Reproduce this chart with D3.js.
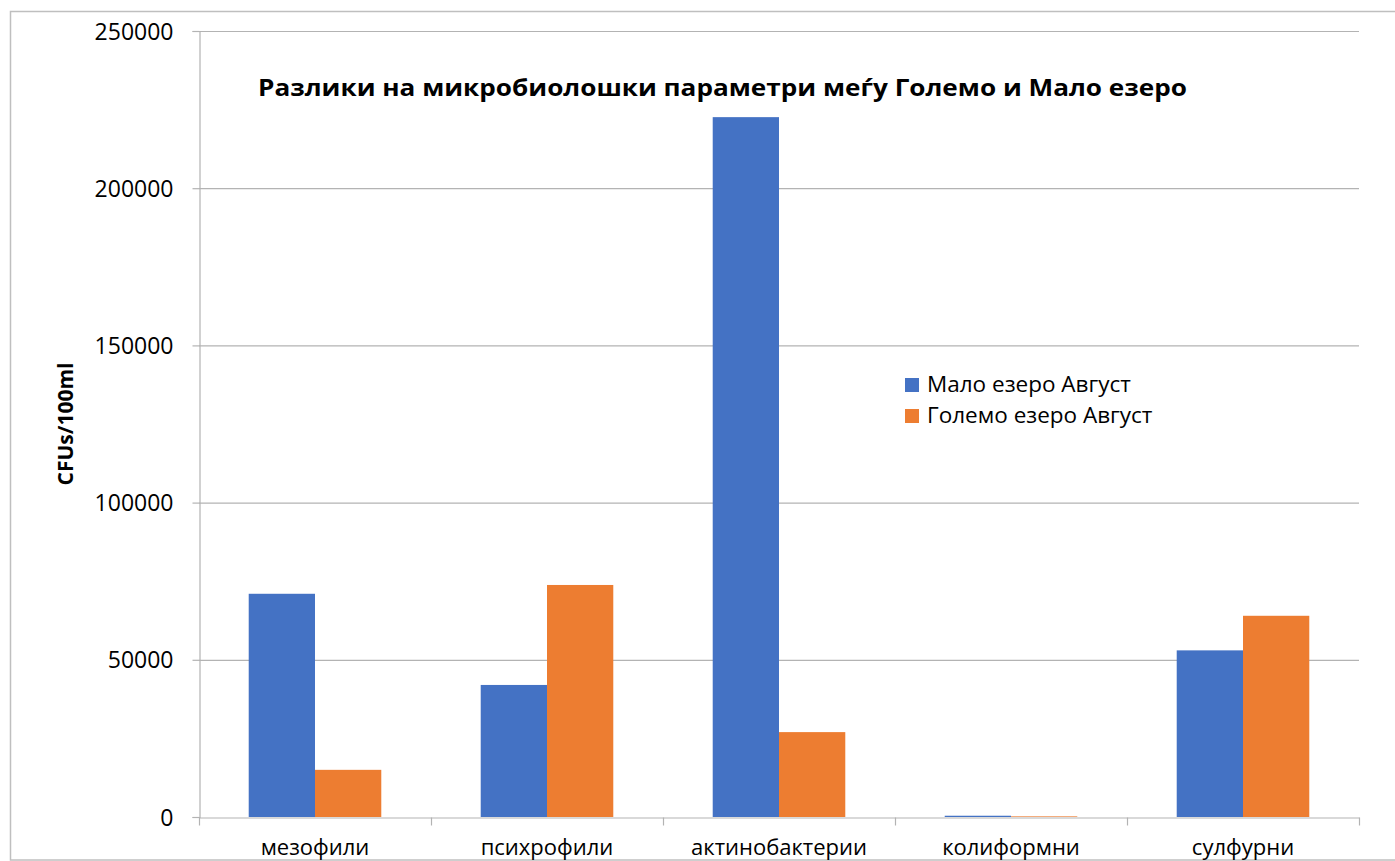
<!DOCTYPE html>
<html>
<head>
<meta charset="utf-8">
<script src="https://cdn.jsdelivr.net/npm/d3@7"></script>
<style>
  body { margin: 0; background: #fff; overflow: hidden; }
  text { font-family: "Open Sans", "Noto Sans", sans-serif; fill: #000; }
</style>
</head>
<body>
<svg id="chart"></svg>
<script>
let categories = ['мезофили', 'психрофили', 'актинобактерии', 'колиформни', 'сулфурни']
let seriesNames = ['Мало езеро Август', 'Големо езеро Август']
let maloValues = [71000, 42000, 222600, 400, 53000]
let golemoValues = [15000, 73800, 27000, 200, 64000]
let yTicks = [0, 50000, 100000, 150000, 200000, 250000]
let colors = ['#4472C4', '#ED7D31']

let width = 1395
let height = 861
let svg = d3.select('#chart')
  .attr('width', width)
  .attr('height', height)

// chart frame (runs off the right edge)
svg.append('rect')
  .attr('x', 10.5).attr('y', 11.5)
  .attr('width', 1420).attr('height', 848.5)
  .attr('fill', 'none')
  .attr('stroke', '#bfbfbf')
  .attr('stroke-width', 1.5)

let plotLeft = 199, plotRight = 1359, plotTop = 31, plotBottom = 817

let x0 = d3.scaleBand().domain(categories).range([plotLeft, plotRight])
let x1 = d3.scaleBand().domain(seriesNames).range([0, x0.bandwidth()]).paddingOuter(0.75)
let y = d3.scaleLinear().domain([0, 250000]).range([plotBottom, plotTop])

// gridlines
svg.append('g')
  .selectAll('line')
  .data(yTicks.slice(1))
  .enter()
  .append('line')
  .attr('x1', plotLeft).attr('x2', plotRight)
  .attr('y1', (d) => y(d) + 0.5).attr('y2', (d) => y(d) + 0.5)
  .attr('stroke', '#b3b3b3')
  .attr('stroke-width', 1.2)

let rows = categories.map((c, i) => ({ cat: c, vals: [maloValues[i], golemoValues[i]] }))

let groups = svg.append('g')
  .selectAll('g')
  .data(rows)
  .enter()
  .append('g')
  .attr('transform', (d) => `translate(${x0(d.cat)},0)`)

groups.selectAll('rect')
  .data((d) => d.vals.map((v, j) => ({ name: seriesNames[j], v: v, j: j })))
  .enter()
  .append('rect')
  .attr('x', (d) => x1(d.name))
  .attr('width', x1.bandwidth())
  .attr('y', (d) => y(d.v))
  .attr('height', (d) => plotBottom - y(d.v))
  .attr('fill', (d) => colors[d.j])

// y axis
let yAxis = svg.append('g')
  .attr('transform', `translate(${plotLeft + 0.5},0)`)
  .call(d3.axisLeft(y).tickValues(yTicks).tickSize(7).tickPadding(19).tickFormat(d3.format('d')))
yAxis.select('.domain').attr('stroke', '#b3b3b3').attr('stroke-width', 1.2)
yAxis.selectAll('.tick line').attr('stroke', '#b3b3b3').attr('stroke-width', 1.2)
yAxis.selectAll('.tick text').style('font-size', '23px').attr('dy', '0.35em')

// x axis
let xAxis = svg.append('g')
  .attr('transform', `translate(0,${plotBottom + 0.5})`)
  .call(d3.axisBottom(x0).tickSize(0).tickPadding(22))
xAxis.select('.domain').attr('stroke', '#b3b3b3').attr('stroke-width', 1.2)
xAxis.selectAll('.tick text').style('font-size', '22px')
xAxis.selectAll('.sep')
  .data(d3.range(categories.length + 1))
  .enter()
  .append('line')
  .attr('x1', (i) => plotLeft + 0.5 + i * x0.step())
  .attr('x2', (i) => plotLeft + 0.5 + i * x0.step())
  .attr('y1', 0).attr('y2', 8)
  .attr('stroke', '#b3b3b3')
  .attr('stroke-width', 1.2)

// axis title
svg.append('text')
  .attr('transform', 'translate(73,424) rotate(-90)')
  .attr('text-anchor', 'middle')
  .style('font-size', '21px')
  .style('font-weight', 'bold')
  .text('CFUs/100ml')

// chart title
svg.append('text')
  .attr('x', 258).attr('y', 96)
  .attr('textLength', 929)
  .attr('lengthAdjust', 'spacingAndGlyphs')
  .style('font-size', '23px')
  .style('font-weight', 'bold')
  .text('Разлики на микробиолошки параметри меѓу Големо и Мало езеро')

// legend
let legend = svg.append('g')
  .selectAll('g')
  .data(seriesNames)
  .enter()
  .append('g')
  .attr('transform', (d, i) => `translate(905,${378 + i * 31})`)
legend.append('rect')
  .attr('width', 14).attr('height', 14)
  .attr('fill', (d, i) => colors[i])
legend.append('text')
  .attr('x', 22).attr('y', 14)
  .style('font-size', '22.5px')
  .text((d) => d)
</script>
</body>
</html>
